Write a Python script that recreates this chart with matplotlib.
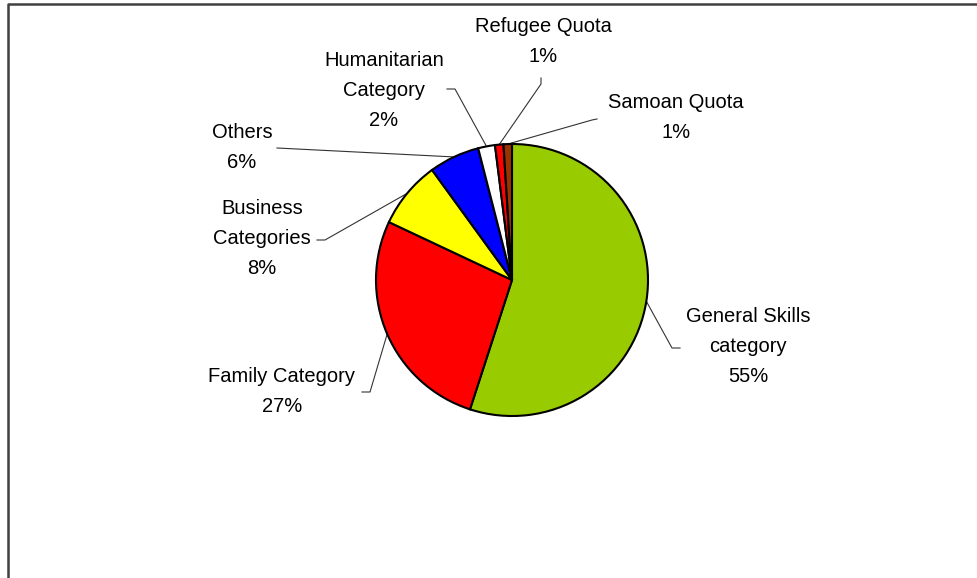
import numpy as np
import matplotlib
matplotlib.use("Agg")
import matplotlib.pyplot as plt

# Share of approvals by stream
categories = ["General Skills\ncategory", "Family Category", "Business\nCategories",
              "Others", "Humanitarian\nCategory", "Refugee Quota", "Samoan Quota"]
shares = [55, 27, 8, 6, 2, 1, 1]
colors = ["#99CC00", "#FF0000", "#FFFF00", "#0000FF", "#FFFFFF", "#FF0000", "#993300"]

W, H = 977, 578
fig = plt.figure(figsize=(W / 100, H / 100), dpi=100)
ax = fig.add_axes([0, 0, 1, 1])
ax.set_xlim(0, W)
ax.set_ylim(0, H)
ax.set_aspect("equal")
ax.axis("off")


def Y(y):
    # layout positions are given from the top edge
    return H - y


cx, cy, radius = 512, Y(280), 136
wedges, _ = ax.pie(shares, colors=colors, startangle=90, counterclock=False,
                   center=(cx, cy), radius=radius, frame=True,
                   wedgeprops=dict(edgecolor="black", linewidth=1.5))
ax.set_xlim(0, W)
ax.set_ylim(0, H)
ax.axis("off")

# label centre (x, y of first line) and leader path (start, elbow)
label_pos = [(748, 317), (282, 376), (262, 208), (242, 132),
             (384, 60), (543, 27), (676, 103)]
leader = [[(680, 348), (672, 348)],
          [(362, 392), (370, 392)],
          [(317, 240), (325, 240)],
          [(277, 148)],
          [(447, 89), (455, 89)],
          [(541, 78), (541, 84)],
          [(597, 119), (592, 120)]]

font = dict(family=["Liberation Sans", "DejaVu Sans"], size=14.5, color="black")
line_h = 30
for w, name, val, (lx, ly), path in zip(wedges, categories, shares, label_pos, leader):
    lines = name.split("\n") + [f"{val}%"]
    for i, t in enumerate(lines):
        ax.text(lx, Y(ly + i * line_h), t, ha="center", va="center", **font)
    mid = np.deg2rad((w.theta1 + w.theta2) / 2)
    px = cx + radius * np.cos(mid)
    py = cy + radius * np.sin(mid)
    xs = [p[0] for p in path] + [px]
    ys = [Y(p[1]) for p in path] + [py]
    ax.plot(xs, ys, color="#333333", lw=0.8, zorder=0.5)

# chart-area border
ax.plot([8, 8, W + 5], [-5, Y(4), Y(4)], color="#404040", lw=1.8, clip_on=False)

fig.savefig("out.png", dpi=100, facecolor="white")
